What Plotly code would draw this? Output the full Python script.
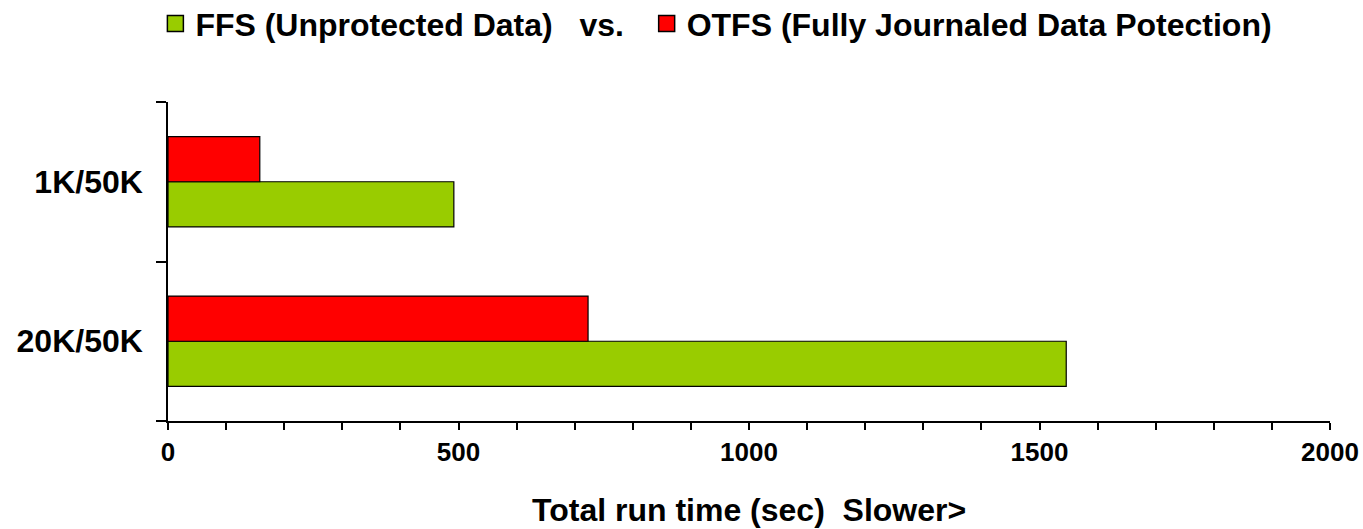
import plotly.graph_objects as go

categories = ["20K/50K", "1K/50K"]
ffs_values = [1546, 492]
otfs_values = [723, 158]
series_names = ["FFS (Unprotected Data)\u00a0\u00a0\u00a0vs.\u00a0\u00a0", "OTFS (Fully Journaled Data Potection)"]
series_colors = ["#99CC00", "#FF0000"]
x_title = "Total run time (sec)\u00a0\u00a0Slower>"

FONT = "Liberation Sans, Arial, sans-serif"

fig = go.Figure()
for vals, name, color in [(ffs_values, series_names[0], series_colors[0]),
                          (otfs_values, series_names[1], series_colors[1])]:
    fig.add_trace(go.Bar(
        y=categories, x=vals, orientation="h", name=name, showlegend=False,
        marker=dict(color=color, line=dict(color="black", width=1.2)),
    ))
# legend proxies (larger square swatches)
for name, color in zip(series_names, series_colors):
    fig.add_trace(go.Scatter(
        x=[None], y=[None], mode="markers", name=name,
        marker=dict(symbol="square", size=16, color=color, line=dict(color="black", width=1.5)),
    ))

fig.update_layout(
    width=1363, height=529,
    margin=dict(l=168, r=33, t=102, b=108),
    paper_bgcolor="white", plot_bgcolor="white",
    barmode="group", bargap=0.434, bargroupgap=0,
    font=dict(family=FONT, color="black"),
    showlegend=True,
    legend=dict(
        orientation="h", xref="container", yref="container",
        x=0.114, xanchor="left", y=0.955, yanchor="middle",
        font=dict(size=32, family=FONT, weight="bold"),
        itemwidth=30, tracegroupgap=0, itemsizing="trace",
    ),
    annotations=[dict(
        text="<b>" + x_title + "</b>", xref="paper", yref="paper",
        x=0.5, y=-0.279, xanchor="center", yanchor="middle",
        showarrow=False, font=dict(size=32, family=FONT, color="black"),
    )],
)

fig.update_xaxes(
    range=[0, 2000], dtick=500, tick0=0, automargin=False,
    showgrid=False, zeroline=False,
    showline=True, linecolor="black", linewidth=1.5,
    ticks="outside", ticklen=7, tickcolor="black", tickwidth=1.5,
    tickfont=dict(size=26, family=FONT, weight="bold"),
    ticklabelstandoff=0, ticklabeloverflow="allow",
    minor=dict(dtick=100, ticks="outside", ticklen=7, tickcolor="black", tickwidth=1.5, showgrid=False),
)
fig.update_yaxes(
    type="category", categoryorder="array", categoryarray=categories,
    range=[-0.5, 1.5], automargin=False,
    showgrid=False, zeroline=False,
    showline=True, linecolor="black", linewidth=1.5,
    ticks="outside", ticklen=10, tickcolor="black", tickwidth=1.5,
    tickson="boundaries",
    tickfont=dict(size=32, family=FONT, weight="bold"),
    ticklabelstandoff=17,
)

fig.write_html(
    "out.html",
    config={"displayModeBar": False},
    post_script="document.body.style.margin='0';document.body.style.overflow='hidden';",
)
